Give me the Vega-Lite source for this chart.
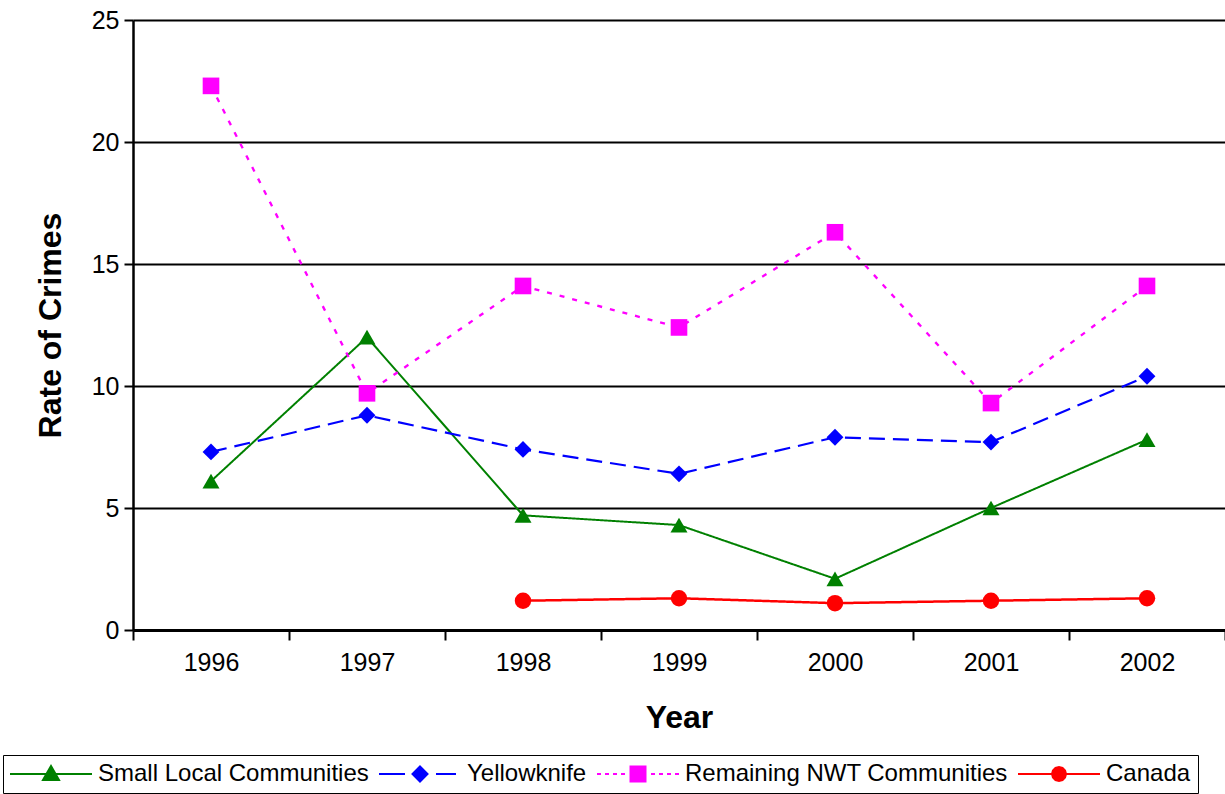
{
  "$schema": "https://vega.github.io/schema/vega-lite/v6.json",
  "width": 1092,
  "height": 610,
  "autosize": {"type": "none"},
  "padding": {"left": 133, "top": 20, "right": 0, "bottom": 164},
  "background": "white",
  "config": {
    "view": {"stroke": null},
    "font": "Liberation Sans"
  },
  "data": {
    "values": [
      {"year": "1996", "series": "Small Local Communities", "value": 6.1},
      {"year": "1997", "series": "Small Local Communities", "value": 12.0},
      {"year": "1998", "series": "Small Local Communities", "value": 4.7},
      {"year": "1999", "series": "Small Local Communities", "value": 4.3},
      {"year": "2000", "series": "Small Local Communities", "value": 2.1},
      {"year": "2001", "series": "Small Local Communities", "value": 5.0},
      {"year": "2002", "series": "Small Local Communities", "value": 7.8},
      {"year": "1996", "series": "Yellowknife", "value": 7.3},
      {"year": "1997", "series": "Yellowknife", "value": 8.8},
      {"year": "1998", "series": "Yellowknife", "value": 7.4},
      {"year": "1999", "series": "Yellowknife", "value": 6.4},
      {"year": "2000", "series": "Yellowknife", "value": 7.9},
      {"year": "2001", "series": "Yellowknife", "value": 7.7},
      {"year": "2002", "series": "Yellowknife", "value": 10.4},
      {"year": "1996", "series": "Remaining NWT Communities", "value": 22.3},
      {"year": "1997", "series": "Remaining NWT Communities", "value": 9.7},
      {"year": "1998", "series": "Remaining NWT Communities", "value": 14.1},
      {"year": "1999", "series": "Remaining NWT Communities", "value": 12.4},
      {"year": "2000", "series": "Remaining NWT Communities", "value": 16.3},
      {"year": "2001", "series": "Remaining NWT Communities", "value": 9.3},
      {"year": "2002", "series": "Remaining NWT Communities", "value": 14.1},
      {"year": "1998", "series": "Canada", "value": 1.2},
      {"year": "1999", "series": "Canada", "value": 1.3},
      {"year": "2000", "series": "Canada", "value": 1.1},
      {"year": "2001", "series": "Canada", "value": 1.2},
      {"year": "2002", "series": "Canada", "value": 1.3}
    ]
  },
  "resolve": {
    "scale": {"color": "independent", "fill": "independent", "shape": "independent", "stroke": "independent", "size": "independent", "strokeDash": "independent", "strokeWidth": "independent"},
    "legend": {"color": "independent", "fill": "independent", "shape": "independent", "stroke": "independent", "size": "independent", "strokeDash": "independent", "strokeWidth": "independent"}
  },
  "layer": [
    {
      "mark": {"type": "line"},
      "encoding": {
        "x": {
          "field": "year", "type": "ordinal",
          "scale": {"type": "band", "paddingInner": 0, "paddingOuter": 0},
          "axis": {
            "title": "Year", "labelAngle": 0, "tickBand": "extent",
            "domainColor": "black", "domainWidth": 3,
            "tickColor": "black", "tickWidth": 2, "tickSize": 10,
            "labelFontSize": 25, "labelColor": "black", "labelPadding": 10,
            "titleFontSize": 32, "titleFontWeight": "bold", "titleColor": "black", "titlePadding": 27
          }
        },
        "y": {
          "field": "value", "type": "quantitative",
          "scale": {"domain": [0, 25], "nice": false},
          "axis": {
            "title": "Rate of Crimes", "values": [0, 5, 10, 15, 20, 25],
            "grid": true, "gridColor": "black", "gridWidth": 2, "gridOpacity": 1,
            "domainColor": "black", "domainWidth": 2.5,
            "tickColor": "black", "tickWidth": 2, "tickSize": 9,
            "labelFontSize": 25, "labelColor": "black", "labelPadding": 5,
            "titleFontSize": 32, "titleFontWeight": "bold", "titleColor": "black", "titlePadding": 24
          }
        },
        "color": {
          "field": "series", "type": "nominal", "legend": null,
          "scale": {"domain": ["Small Local Communities", "Yellowknife", "Remaining NWT Communities", "Canada"], "range": ["#008000", "#0000FF", "#FF00FF", "#FF0000"]}
        },
        "strokeDash": {
          "field": "series", "type": "nominal", "legend": null,
          "scale": {"domain": ["Small Local Communities", "Yellowknife", "Remaining NWT Communities", "Canada"], "range": [[1, 0], [16, 8], [5, 8], [1, 0]]}
        },
        "strokeWidth": {
          "field": "series", "type": "nominal", "legend": null,
          "scale": {"domain": ["Small Local Communities", "Yellowknife", "Remaining NWT Communities", "Canada"], "range": [2, 2.5, 2.2, 2]}
        }
      }
    },
    {
      "mark": {"type": "point", "filled": true, "opacity": 1},
      "encoding": {
        "x": {"field": "year", "type": "ordinal"},
        "y": {"field": "value", "type": "quantitative"},
        "color": {
          "field": "series", "type": "nominal", "legend": null,
          "scale": {"domain": ["Small Local Communities", "Yellowknife", "Remaining NWT Communities", "Canada"], "range": ["#008000", "#0000FF", "#FF00FF", "#FF0000"]}
        },
        "shape": {
          "field": "series", "type": "nominal", "legend": null,
          "scale": {"domain": ["Small Local Communities", "Yellowknife", "Remaining NWT Communities", "Canada"], "range": ["triangle-up", "diamond", "square", "circle"]}
        },
        "size": {
          "field": "series", "type": "nominal", "legend": null,
          "scale": {"domain": ["Small Local Communities", "Yellowknife", "Remaining NWT Communities", "Canada"], "range": [290, 270, 250, 210]}
        }
      }
    },
    {
      "mark": {"type": "point", "opacity": 0, "size": 100},
      "encoding": {
        "x": {"field": "year", "type": "ordinal"},
        "y": {"field": "value", "type": "quantitative"},
        "fill": {
          "field": "series", "type": "nominal",
          "scale": {"domain": ["Small Local Communities", "Yellowknife", "Remaining NWT Communities", "Canada"], "range": ["#008000", "#0000FF", "#FF00FF", "#FF0000"]},
          "legend": {
            "orient": "none", "legendX": -130, "legendY": 735, "direction": "horizontal", "title": null,
            "strokeColor": "black", "padding": 7,
            "labelFont": "Liberation Sans", "labelFontSize": 24, "labelColor": "black", "labelLimit": 600,
            "symbolSize": 100, "symbolStrokeWidth": 2, "symbolOpacity": 1,
            "labelOffset": 64, "columnPadding": 6,
            "encode": {
              "symbols": {
                "update": {
                  "fill": {"signal": "datum.value === 'Small Local Communities' ? '#008000' : datum.value === 'Yellowknife' ? '#0000FF' : datum.value === 'Canada' ? '#FF0000' : '#FF00FF'"},
                  "fillOpacity": {"value": 1}
                }
              }
            }
          }
        },
        "stroke": {
          "field": "series", "type": "nominal",
          "scale": {"domain": ["Small Local Communities", "Yellowknife", "Remaining NWT Communities", "Canada"], "range": ["#008000", "#0000FF", "#FF00FF", "#FF0000"]}
        },
        "shape": {
          "field": "series", "type": "nominal",
          "scale": {
            "domain": ["Small Local Communities", "Yellowknife", "Remaining NWT Communities", "Canada"],
            "range": [
              "M-2.4,0H14M5.8,-1.6L7.4,1.2L4.2,1.2Z",
              "M-2.4,0H2.8M9,0H13M5.8,-1.5L7.3,0L5.8,1.5L4.3,0Z",
              "M-2.4,0H-1.6M-0.8,0H0M0.8,0H1.6M2.4,0H3.2M8.4,0H9.2M10,0H10.8M11.6,0H12.4M13.2,0H14M4.3,-1.5H7.3V1.5H4.3Z",
              "M-2.4,0H14M7.2,0L7.012,0.7L6.5,1.212L5.8,1.4L5.1,1.212L4.588,0.7L4.4,0L4.588,-0.7L5.1,-1.212L5.8,-1.4L6.5,-1.212L7.012,-0.7Z"
            ]
          }
        }
      }
    }
  ]
}
